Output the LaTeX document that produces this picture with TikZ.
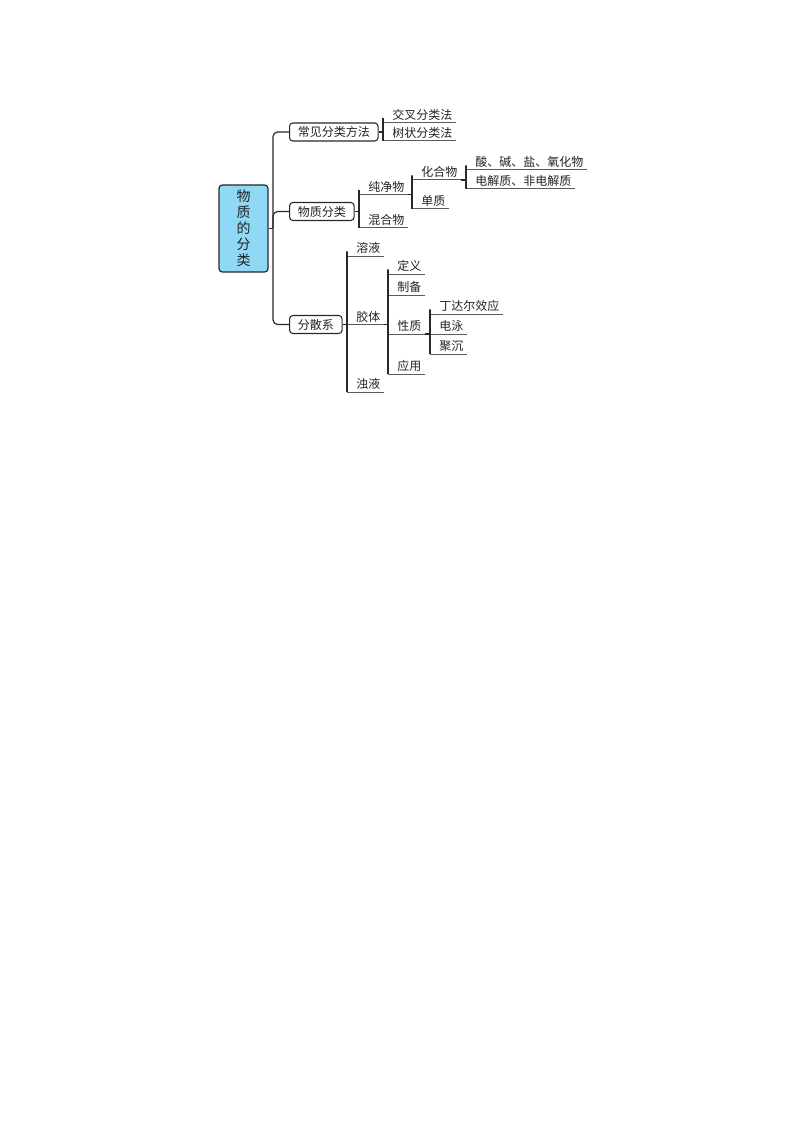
\documentclass[tikz,border=0pt]{standalone}
\usepackage{fontspec}
\setmainfont{Noto Sans CJK SC}
\definecolor{rootblue}{RGB}{143,216,246}
\definecolor{linedark}{RGB}{40,40,40}
\definecolor{linegray}{RGB}{90,90,90}
\definecolor{textdark}{RGB}{35,35,35}
\begin{document}
\begin{tikzpicture}[x=0.75pt,y=-0.75pt,
  conn/.style={draw=linedark, line width=0.9pt},
  elbow/.style={conn, rounded corners=3.5pt},
  uline/.style={draw=linegray, line width=0.75pt},
  rootbox/.style={draw=linedark, line width=0.9pt, fill=rootblue, rounded corners=2.5pt,
    minimum width=36.75pt, minimum height=65.25pt, align=center, text=textdark,
    font=\fontsize{10.5}{12}\selectfont, inner sep=0pt},
  topic/.style={draw=linedark, line width=0.8pt, rounded corners=2.5pt, minimum height=13.5pt,
    inner xsep=6.2pt, inner ysep=0pt, anchor=west, text=textdark, font=\fontsize{9}{10}\selectfont, fill=white},
  leaf/.style={anchor=south west, inner xsep=0pt, inner ysep=1.5pt, text=textdark, font=\fontsize{9}{10}\selectfont,
    execute at begin node={\hspace*{6.75pt}}, execute at end node={\hspace*{2.25pt}}}
]
\useasboundingbox (0,0) rectangle (794,1123);

% root and trunk
\node[rootbox] (root) at (243.5,228.5) {物\\质\\的\\分\\类};
\coordinate (trunk) at (273,228.5);

% main topics
\node[topic] (A) at (289,132) {常见分类方法};
\node[topic] (B) at (289,211.5) {物质分类};
\node[topic] (C) at (289,324.5) {分散系};

% leaves of A
\node[leaf] (A1) at (383,122.5) {交叉分类法};
\node[leaf] (A2) at (383,141) {树状分类法};

% leaves of B
\node[leaf] (B1) at (359,194.5) {纯净物};
\node[leaf] (B2) at (359,228) {混合物};
\node[leaf] (B1a) at (412,180) {化合物};
\node[leaf] (B1b) at (412,209) {单质};
\node[leaf] (B1a1) at (466,170) {酸、碱、盐、氧化物};
\node[leaf] (B1a2) at (466,189) {电解质、非电解质};

% leaves of C
\node[leaf] (C1) at (347,256) {溶液};
\node[leaf] (C2) at (347,324.5) {胶体};
\node[leaf] (C3) at (347,392) {浊液};
\node[leaf] (C2a) at (388,274) {定义};
\node[leaf] (C2b) at (388,295) {制备};
\node[leaf] (C2c) at (388,334) {性质};
\node[leaf] (C2d) at (388,374) {应用};
\node[leaf] (C2c1) at (430,314) {丁达尔效应};
\node[leaf] (C2c2) at (430,334) {电泳};
\node[leaf] (C2c3) at (430,354) {聚沉};

% underlines
\foreach \n in {A1,A2,B1,B2,B1a,B1b,B1a1,B1a2,C1,C2,C3,C2a,C2b,C2c,C2d,C2c1,C2c2,C2c3}
  \draw[uline] (\n.south west) -- (\n.south east);

% trunk connectors
\draw[conn] (root.east) -- (trunk);
\draw[elbow] (trunk) |- (A.west);
\draw[elbow] (trunk) |- (B.west);
\draw[elbow] (trunk) |- (C.west);

% A
\draw[conn] (A.east) -- (A.east -| A1.south west);
\foreach \c in {A1,A2} \draw[elbow] (A.east -| A1.south west) |- (\c.south west);

% B
\draw[conn] (B.east) -- (B.east -| B1.south west);
\foreach \c in {B1,B2} \draw[elbow] (B.east -| B1.south west) |- (\c.south west);
\draw[conn] (B1.south east) -- (B1.south east -| B1a.south west);
\foreach \c in {B1a,B1b} \draw[elbow] (B1.south east -| B1a.south west) |- (\c.south west);
\draw[conn] (B1a.south east) -- (B1a.south east -| B1a1.south west);
\foreach \c in {B1a1,B1a2} \draw[elbow] (B1a.south east -| B1a1.south west) |- (\c.south west);

% C
\draw[conn] (C.east) -- (C.east -| C1.south west);
\foreach \c in {C1,C2,C3} \draw[elbow] (C.east -| C1.south west) |- (\c.south west);
\draw[conn] (C2.south east) -- (C2.south east -| C2a.south west);
\foreach \c in {C2a,C2b,C2c,C2d} \draw[elbow] (C2.south east -| C2a.south west) |- (\c.south west);
\draw[conn] (C2c.south east) -- (C2c.south east -| C2c1.south west);
\foreach \c in {C2c1,C2c2,C2c3} \draw[elbow] (C2c.south east -| C2c1.south west) |- (\c.south west);
\end{tikzpicture}
\end{document}
